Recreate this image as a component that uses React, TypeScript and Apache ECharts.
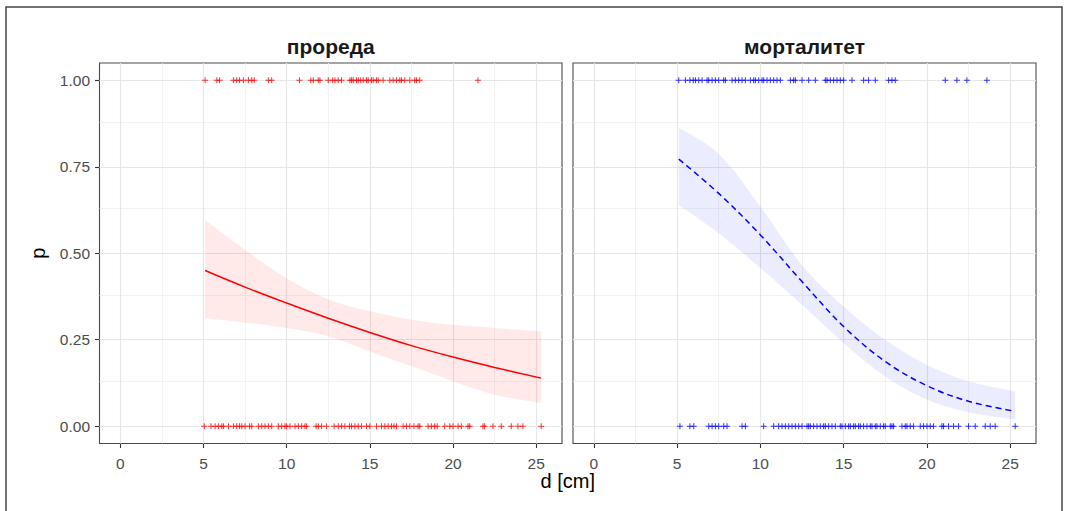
import React, { useEffect, useRef } from "react";
import * as echarts from "echarts";

// ---- data ----
const panelTitles = ["прореда", "морталитет"];
const xTitle = "d [cm]";
const yTitle = "p";
const xTicks = [0, 5, 10, 15, 20, 25];
const xMinor = [2.5, 7.5, 12.5, 17.5, 22.5];
const yTicks = [0, 0.25, 0.5, 0.75, 1];
const yMinor = [0.125, 0.375, 0.625, 0.875];

const fitX = [5.1, 7.5, 10, 12.5, 15, 17.5, 20, 22.5, 25.3];

const thinFit = [0.45, 0.402, 0.356, 0.312, 0.271, 0.233, 0.2, 0.17, 0.139];
const thinUpper = [0.596, 0.51, 0.428, 0.367, 0.332, 0.308, 0.293, 0.284, 0.274];
const thinLower = [0.312, 0.3, 0.284, 0.26, 0.216, 0.173, 0.13, 0.091, 0.067];

const mortFit = [0.772, 0.673, 0.553, 0.418, 0.288, 0.187, 0.117, 0.072, 0.043];
const mortUpper = [0.863, 0.788, 0.635, 0.466, 0.346, 0.25, 0.178, 0.13, 0.101];
const mortLower = [0.639, 0.558, 0.457, 0.351, 0.24, 0.144, 0.077, 0.04, 0.019];

// observed d for trees with outcome 1 / 0
const thinOnes = [
  5.1, 5.8, 5.97, 6.8, 7.0, 7.17, 7.4, 7.7, 7.9, 8.05, 8.9, 9.1, 10.77, 11.45,
  11.6, 11.9, 12.0, 12.5, 12.77, 12.9, 13.1, 13.3, 13.8, 13.9, 14.0, 14.2, 14.3,
  14.45, 14.6, 14.8, 14.9, 15.1, 15.2, 15.4, 15.5, 15.8, 16.2, 16.4, 16.6, 16.8,
  16.9, 17.1, 17.4, 17.7, 17.8, 18.0, 21.5,
];
const thinZeros = [
  5.05, 5.45, 5.7, 5.9, 6.1, 6.2, 6.5, 6.8, 7.0, 7.17, 7.3, 7.5, 7.77, 7.9, 8.3,
  8.5, 8.7, 8.9, 9.1, 9.5, 9.7, 9.9, 10.0, 10.2, 10.5, 10.7, 10.9, 11.1, 11.2,
  11.77, 11.9, 12.1, 12.4, 12.85, 13.1, 13.3, 13.5, 13.77, 13.9, 14.1, 14.3,
  14.5, 14.8, 15.0, 15.4, 15.7, 15.9, 16.1, 16.3, 16.45, 16.6, 17.0, 17.2, 17.4,
  17.65, 17.9, 18.0, 18.5, 18.7, 18.9, 19.05, 19.5, 19.8, 20.0, 20.3, 20.5,
  20.9, 21.0, 21.8, 21.9, 22.4, 22.9, 23.5, 23.9, 24.2, 25.3,
];
const mortOnes = [
  5.1, 5.5, 5.77, 5.97, 6.1, 6.3, 6.5, 6.8, 6.9, 7.1, 7.3, 7.5, 7.8, 7.9, 8.3,
  8.5, 8.7, 8.9, 9.1, 9.4, 9.6, 9.7, 9.9, 10.1, 10.2, 10.4, 10.6, 10.8, 11.0,
  11.2, 11.8, 12.0, 12.1, 12.5, 12.9, 13.3, 13.9, 14.0, 14.2, 14.4, 14.6, 14.8,
  15.0, 15.5, 16.2, 16.5, 16.9, 17.7, 17.9, 18.1, 21.1, 21.8, 22.4, 23.6,
];
const mortZeros = [
  5.17, 5.77, 6.0, 6.9, 7.1, 7.3, 7.5, 7.8, 8.0, 8.9, 9.1, 10.2, 10.8, 11.1,
  11.3, 11.5, 11.7, 11.9, 12.1, 12.3, 12.5, 12.8, 12.9, 13.0, 13.2, 13.4, 13.6,
  13.8, 13.9, 14.1, 14.3, 14.5, 14.8, 14.9, 15.1, 15.3, 15.4, 15.6, 15.7, 15.9,
  16.0, 16.2, 16.4, 16.6, 16.7, 16.9, 17.0, 17.2, 17.4, 17.5, 17.8, 17.9, 18.0,
  18.5, 18.7, 18.8, 19.0, 19.2, 19.6, 19.8, 20.0, 20.2, 20.4, 20.9, 21.0, 21.3,
  21.6, 21.9, 22.5, 22.9, 23.5, 23.8, 24.1, 25.3,
];

const FONT = "'Liberation Sans', Arial, Helvetica, sans-serif";
const PLUS = "path://M2.5,0H3.5V2.5H6V3.5H3.5V6H2.5V3.5H0V2.5H2.5Z";
const MAJOR = { color: "#e6e6e6", width: 1.2, type: "solid" as const };
const MINOR = { color: "#efefef", width: 0.8, type: "solid" as const };

export default function App() {
  const ref = useRef<HTMLDivElement>(null);

  useEffect(() => {
    if (!ref.current) return;
    const chart = echarts.init(ref.current, null, { renderer: "svg" });

    const grids = [
      { left: 99.5, top: 63, width: 462.5, height: 380.5 },
      { left: 573, top: 63, width: 463, height: 380.5 },
    ];

    const xAxisFor = (gi: number) => ({
      type: "value",
      gridIndex: gi,
      min: -1.25,
      max: 26.55,
      interval: 1.25,
      axisLine: { show: false, onZero: false },
      axisTick: {
        show: true,
        length: 4.5,
        customValues: xTicks,
        lineStyle: { color: "#333333", width: 1.1 },
      },
      axisLabel: {
        color: "#4d4d4d",
        fontSize: 15.5,
        fontFamily: FONT,
        margin: 12,
        customValues: xTicks,
      },
      splitLine: { show: false },
    });
    const yAxisFor = (gi: number, labels: boolean) => ({
      type: "value",
      gridIndex: gi,
      min: -0.05,
      max: 1.05,
      interval: 0.05,
      axisLine: { show: false, onZero: false },
      axisTick: {
        show: labels,
        length: 4.5,
        customValues: yTicks,
        lineStyle: { color: "#333333", width: 1.1 },
      },
      axisLabel: {
        show: labels,
        color: "#4d4d4d",
        fontSize: 15.5,
        fontFamily: FONT,
        margin: 9.5,
        customValues: yTicks,
        formatter: (v: number) => v.toFixed(2),
      },
      splitLine: { show: false },
    });

    const gridLines = (gi: number) => ({
      type: "line",
      xAxisIndex: gi,
      yAxisIndex: gi,
      data: [],
      silent: true,
      z: 1,
      markLine: {
        z: 1,
        silent: true,
        symbol: "none",
        label: { show: false },
        animation: false,
        data: [
          ...xMinor.map((v) => ({ xAxis: v, lineStyle: MINOR })),
          ...yMinor.map((v) => ({ yAxis: v, lineStyle: MINOR })),
          ...xTicks.map((v) => ({ xAxis: v, lineStyle: MAJOR })),
          ...yTicks.map((v) => ({ yAxis: v, lineStyle: MAJOR })),
        ],
      },
    });

    const panel = (
      gi: number,
      fit: number[],
      lower: number[],
      upper: number[],
      ones: number[],
      zeros: number[],
      color: string,
      band: string,
      dashed: boolean
    ) => {
      const stack = "band" + gi;
      return [
        gridLines(gi),
        {
          type: "line",
          xAxisIndex: gi,
          yAxisIndex: gi,
          // value first so that the stacked dimension is p
          data: fitX.map((x, i) => [lower[i], x]),
          encode: { x: 1, y: 0 },
          stack,
          smooth: 0.35,
          symbol: "none",
          lineStyle: { width: 0, opacity: 0 },
          silent: true,
          z: 2,
        },
        {
          type: "line",
          xAxisIndex: gi,
          yAxisIndex: gi,
          data: fitX.map((x, i) => [upper[i] - lower[i], x]),
          encode: { x: 1, y: 0 },
          stack,
          smooth: 0.35,
          symbol: "none",
          lineStyle: { width: 0, opacity: 0 },
          areaStyle: { color: band, opacity: 1 },
          silent: true,
          z: 2,
        },
        {
          type: "line",
          xAxisIndex: gi,
          yAxisIndex: gi,
          data: fitX.map((x, i) => [x, fit[i]]),
          smooth: 0.35,
          symbol: "none",
          lineStyle: {
            color,
            width: 1.5,
            type: dashed ? [6, 4] : "solid",
          },
          z: 3,
        },
        {
          type: "scatter",
          xAxisIndex: gi,
          yAxisIndex: gi,
          data: ones.map((x) => [x, 1]).concat(zeros.map((x) => [x, 0])),
          symbol: PLUS,
          symbolSize: 6,
          itemStyle: { color },
          z: 4,
        },
      ];
    };

    chart.setOption({
      animation: false,
      backgroundColor: "#ffffff",
      grid: grids.map((g) => ({
        ...g,
        show: true,
        borderColor: "#4a4a4a",
        borderWidth: 1.1,
        backgroundColor: "transparent",
        containLabel: false,
      })),
      xAxis: [xAxisFor(0), xAxisFor(1)],
      yAxis: [yAxisFor(0, true), yAxisFor(1, false)],
      series: [
        ...panel(0, thinFit, thinLower, thinUpper, thinOnes, thinZeros, "#ff0000", "rgba(255,0,0,0.085)", false),
        ...panel(1, mortFit, mortLower, mortUpper, mortOnes, mortZeros, "#0000ff", "rgba(0,0,255,0.075)", true),
      ],
      graphic: [
        {
          type: "rect",
          shape: { x: 6, y: 7, width: 1056, height: 530 },
          style: { fill: "none", stroke: "#444444", lineWidth: 1.5 },
          silent: true,
        },
        ...panelTitles.map((t, i) => ({
          type: "text",
          x: grids[i].left + grids[i].width / 2,
          y: 46,
          style: {
            text: t,
            fontFamily: FONT,
            fontSize: 21,
            fontWeight: "bold",
            fill: "#1a1a1a",
            align: "center",
            verticalAlign: "middle",
          },
        })),
        {
          type: "text",
          x: (grids[0].left + grids[1].left + grids[1].width) / 2,
          y: 481,
          style: {
            text: xTitle,
            fontFamily: FONT,
            fontSize: 20,
            fill: "#000000",
            align: "center",
            verticalAlign: "middle",
          },
        },
        {
          type: "text",
          x: 37.5,
          y: grids[0].top + grids[0].height / 2,
          rotation: Math.PI / 2,
          style: {
            text: yTitle,
            fontFamily: FONT,
            fontSize: 20,
            fill: "#000000",
            align: "center",
            verticalAlign: "middle",
          },
        },
      ],
    });

    return () => chart.dispose();
  }, []);

  return (
    <div
      ref={ref}
      style={{
        position: "fixed",
        left: 0,
        top: 0,
        width: 1065,
        height: 511,
        background: "#ffffff",
      }}
    />
  );
}
